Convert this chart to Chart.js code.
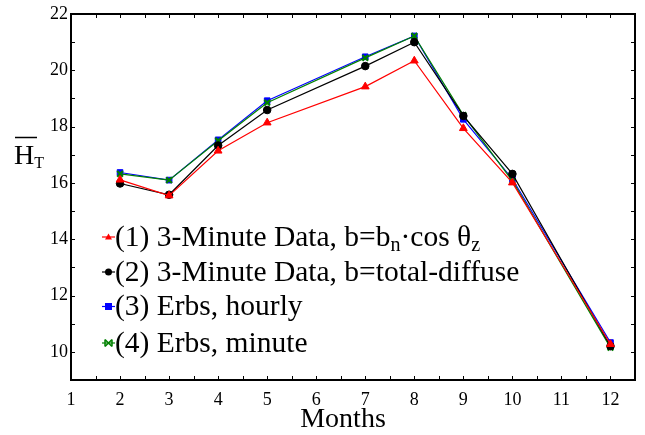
<!DOCTYPE html>
<html>
<head>
<meta charset="utf-8">
<script src="https://cdn.jsdelivr.net/npm/chart.js@4/dist/chart.umd.min.js"></script>
<style>
html,body{margin:0;padding:0;background:#fff;}
#wrap{width:645px;height:435px;position:relative;}
</style>
</head>
<body>
<div id="wrap"><canvas id="c" width="645" height="435"></canvas></div>
<script>
const months = [2, 3, 4, 5, 7, 8, 9, 10, 12];
const seriesNames = [
  "(1) 3-Minute Data, b=b_n·cos θ_z",
  "(2) 3-Minute Data, b=total-diffuse",
  "(3) Erbs, hourly",
  "(4) Erbs, minute"
];
const red3min   = [16.11, 15.55, 17.14, 18.14, 19.42, 20.34, 17.94, 16.01, 10.27];
const black3min = [15.98, 15.58, 17.33, 18.59, 20.15, 21.00, 18.38, 16.32, 10.20];
const blueErbsH = [16.37, 16.10, 17.53, 18.92, 20.48, 21.22, 18.26, 16.14, 10.33];
const greenErbsM= [16.32, 16.10, 17.50, 18.85, 20.44, 21.22, 18.41, 16.07, 10.15];
const xTickLabels = [1,2,3,4,5,6,7,8,9,10,11,12];
const yTickLabels = [10,12,14,16,18,20,22];

const SERIF = "Liberation Serif";
Chart.defaults.font.family = SERIF;
const colors = ['#ff0000', '#000000', '#0000ff', '#008000'];
const styles = ['triangle', 'circle', 'rect', 'crossRot'];
const radii = [4.5, 3.8, 4, 4];
const drawOrder = [0, 1, 3, 2];
const allSeries = [red3min, black3min, blueErbsH, greenErbsM];

const datasets = allSeries.map((vals, i) => ({
  label: seriesNames[i],
  data: months.map((m, j) => ({x: m, y: vals[j]})),
  order: drawOrder[i],
  borderColor: colors[i],
  backgroundColor: colors[i],
  borderWidth: 1.2,
  pointStyle: styles[i],
  pointRadius: radii[i],
  pointBorderWidth: i === 3 ? 2.2 : 1,
  pointBorderColor: colors[i],
  pointBackgroundColor: colors[i],
  tension: 0
}));

function drawMarker(ctx, style, x, y, r, color) {
  ctx.save();
  ctx.fillStyle = color; ctx.strokeStyle = color; ctx.lineWidth = 1.5;
  ctx.beginPath();
  if (style === 'triangle') {
    ctx.moveTo(x, y - r); ctx.lineTo(x + r, y + r * 0.7); ctx.lineTo(x - r, y + r * 0.7); ctx.closePath(); ctx.fill();
  } else if (style === 'circle') {
    ctx.arc(x, y, r, 0, Math.PI * 2); ctx.fill();
  } else if (style === 'rect') {
    ctx.rect(x - r, y - r, 2 * r, 2 * r); ctx.fill();
  } else {
    ctx.moveTo(x - r, y - r); ctx.lineTo(x + r, y + r);
    ctx.moveTo(x + r, y - r); ctx.lineTo(x - r, y + r);
    ctx.moveTo(x - r, y - r); ctx.lineTo(x - r, y + r);
    ctx.moveTo(x + r, y - r); ctx.lineTo(x + r, y + r);
    ctx.stroke();
  }
  ctx.restore();
}

function drawRich(ctx, text, x, y, size) {
  const parts = text.split(/(_[a-zA-Z])/);
  let cx = x;
  for (const p of parts) {
    if (!p) continue;
    if (p[0] === '_' && p.length === 2) {
      ctx.font = (size * 0.68) + 'px ' + SERIF;
      ctx.fillText(p[1], cx, y + size * 0.25);
      cx += ctx.measureText(p[1]).width;
    } else {
      ctx.font = size + 'px ' + SERIF;
      ctx.fillText(p, cx, y);
      cx += ctx.measureText(p).width;
    }
  }
}

const decor = {
  id: 'decor',
  afterDraw(chart) {
    const ctx = chart.ctx;
    const a = chart.chartArea;
    const xs = chart.scales.x, ys = chart.scales.y;
    ctx.save();
    ctx.strokeStyle = '#000'; ctx.lineWidth = 2;
    ctx.strokeRect(a.left, a.top, a.right - a.left, a.bottom - a.top);
    ctx.lineWidth = 1;
    const tl = 4;
    for (let v = xs.min; v <= xs.max + 1e-9; v += 0.5) {
      const px = Math.round(xs.getPixelForValue(v)) + 0.5;
      ctx.beginPath();
      ctx.moveTo(px, a.bottom); ctx.lineTo(px, a.bottom - tl);
      ctx.moveTo(px, a.top); ctx.lineTo(px, a.top + tl);
      ctx.stroke();
    }
    for (let v = ys.min; v <= ys.max + 1e-9; v += 1) {
      const py = Math.round(ys.getPixelForValue(v)) + 0.5;
      ctx.beginPath();
      ctx.moveTo(a.left, py); ctx.lineTo(a.left + tl, py);
      ctx.moveTo(a.right, py); ctx.lineTo(a.right - tl, py);
      ctx.stroke();
    }
    const rowsY = [237, 272, 306.5, 343];
    for (let i = 0; i < 4; i++) {
      const y = rowsY[i];
      ctx.strokeStyle = colors[i]; ctx.lineWidth = 1.2;
      ctx.beginPath(); ctx.moveTo(102, y); ctx.lineTo(115, y); ctx.stroke();
      drawMarker(ctx, styles[i], 108.5, y, 3.5, colors[i]);
      ctx.fillStyle = '#000';
      ctx.textBaseline = 'middle';
      ctx.textAlign = 'left';
      drawRich(ctx, seriesNames[i], 115, y + 1, 29.5);
    }
    ctx.textBaseline = 'alphabetic';
    ctx.fillStyle = '#000';
    ctx.font = '28px ' + SERIF;
    ctx.fillText('H', 14, 164);
    const hw = ctx.measureText('H').width;
    ctx.font = '16px ' + SERIF;
    ctx.fillText('T', 14 + hw, 168);
    ctx.lineWidth = 1.5; ctx.strokeStyle = '#000';
    ctx.beginPath(); ctx.moveTo(15, 137.5); ctx.lineTo(37, 137.5); ctx.stroke();
    ctx.font = '28px ' + SERIF;
    ctx.textAlign = 'center';
    ctx.fillText('Months', 343, 427);
    ctx.restore();
  }
};

new Chart(document.getElementById('c'), {
  type: 'line',
  data: { datasets },
  options: {
    responsive: false,
    animation: false,
    layout: { padding: { left: 0, top: 14, right: 10, bottom: 0 } },
    plugins: { legend: { display: false }, tooltip: { enabled: false } },
    scales: {
      x: {
        type: 'linear', min: 1, max: 12.5,
        afterBuildTicks: s => { s.ticks = xTickLabels.map(v => ({value: v})); },
        afterFit: s => { s.height = 55; },
        grid: { display: false, drawTicks: false },
        border: { display: false },
        ticks: { color: '#000', font: { family: SERIF, size: 18 }, padding: 9, maxRotation: 0, autoSkip: false }
      },
      y: {
        type: 'linear', min: 9, max: 22,
        afterBuildTicks: s => { s.ticks = yTickLabels.map(v => ({value: v})); },
        afterFit: s => { s.width = 71; },
        grid: { display: false, drawTicks: false },
        border: { display: false },
        ticks: { color: '#000', font: { family: SERIF, size: 18 }, padding: 3 }
      }
    }
  },
  plugins: [decor]
});
</script>
</body>
</html>
